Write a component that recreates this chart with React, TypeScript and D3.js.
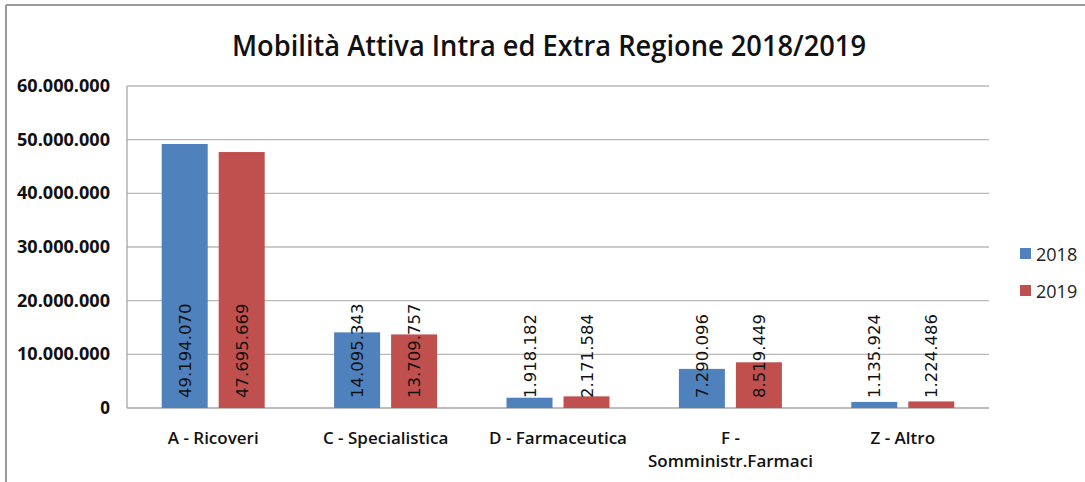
import React from "react";
import * as d3 from "d3";

const categories = ["A - Ricoveri", "C - Specialistica", "D - Farmaceutica", "F - Somministr.Farmaci", "Z - Altro"];
const categoryLines = [["A - Ricoveri"], ["C - Specialistica"], ["D - Farmaceutica"], ["F -", "Somministr.Farmaci"], ["Z - Altro"]];
const seriesNames = ["2018", "2019"];
const values2018 = [49194070, 14095343, 1918182, 7290096, 1135924];
const values2019 = [47695669, 13709757, 2171584, 8519449, 1224486];
const yTicks = [0, 10000000, 20000000, 30000000, 40000000, 50000000, 60000000];
const colors = ["#4F81BD", "#C0504D"];

const W = 1085, H = 482;
const plot = { left: 127, right: 989, top: 86, bottom: 408 };

const fmt = (v: number) => d3.format(",")(v).replace(/,/g, ".");

export default function App() {
  const x = d3.scaleBand<string>().domain(categories).range([plot.left, plot.right]);
  const y = d3.scaleLinear().domain([0, 60000000]).range([plot.bottom, plot.top]);
  const barW = 46;
  const gap = 11;
  const series = [values2018, values2019];
  return (
    <svg width={W} height={H} style={{ position: "absolute", left: 0, top: 0, background: "#fff" }}>
      <rect x={0} y={0} width={W} height={H} fill="#fff" />
      <line x1={6} y1={5} x2={W} y2={5} stroke="#9a9a9a" strokeWidth={2} />
      <line x1={6} y1={5} x2={6} y2={H} stroke="#9a9a9a" strokeWidth={2} />
      <text x={549} y={56} textAnchor="middle" fontFamily="'Open Sans', sans-serif" fontWeight={600} fontSize={29} fill="#111" textLength={634} lengthAdjust="spacingAndGlyphs">
        Mobilità Attiva Intra ed Extra Regione 2018/2019
      </text>
      {yTicks.map((t) => (
        <g key={t}>
          <line x1={plot.left} x2={plot.right} y1={y(t)} y2={y(t)} stroke={t === 0 ? "#a6a6a6" : "#b8b8b8"} strokeWidth={1.3} />
          <text x={110} y={y(t) + 6} textAnchor="end" fontFamily="'Open Sans', sans-serif" fontWeight="bold" fontSize={17} fill="#111"
            textLength={t === 0 ? undefined : 93} lengthAdjust="spacingAndGlyphs">
            {fmt(t)}
          </text>
        </g>
      ))}
      <line x1={plot.left} x2={plot.left} y1={plot.top} y2={plot.bottom} stroke="#a6a6a6" strokeWidth={1.3} />
      {categories.map((c, i) => {
        const cx = (x(c) as number) + x.bandwidth() / 2;
        return (
          <g key={c}>
            {series.map((vals, s) => {
              const bx = s === 0 ? cx - gap / 2 - barW : cx + gap / 2;
              const v = vals[i];
              return (
                <g key={s}>
                  <rect x={bx} y={y(v)} width={barW} height={plot.bottom - y(v)} fill={colors[s]} />
                  <text transform={`translate(${bx + barW / 2 + 6},${plot.bottom - 10}) rotate(-90)`} fontFamily="'DejaVu Sans', sans-serif" fontSize={16.5} fill="#111">
                    {fmt(v)}
                  </text>
                </g>
              );
            })}
            {categoryLines[i].map((ln, k) => (
              <text key={k} x={cx} y={444 + k * 23} textAnchor="middle" fontFamily="'Open Sans', sans-serif" fontWeight={600} fontSize={17} fill="#111">
                {ln}
              </text>
            ))}
          </g>
        );
      })}
      {seriesNames.map((n, s) => (
        <g key={n}>
          <rect x={1020} y={248 + s * 37} width={11} height={11} fill={colors[s]} />
          <text x={1036} y={261 + s * 37} fontFamily="'Open Sans', sans-serif" fontSize={18} fill="#222">
            {n}
          </text>
        </g>
      ))}
    </svg>
  );
}
